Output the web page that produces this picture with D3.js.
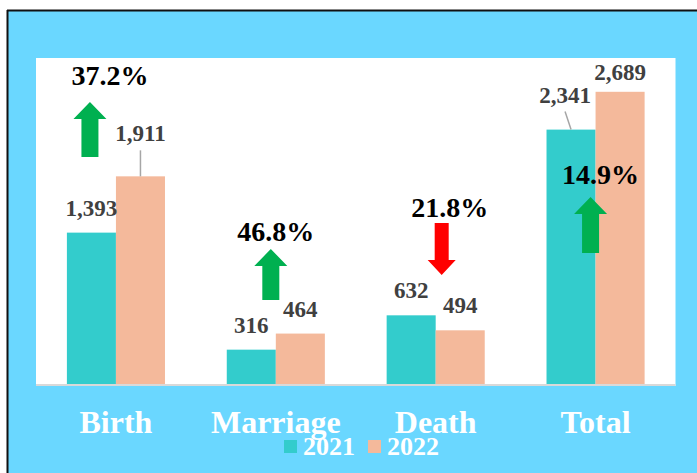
<!DOCTYPE html>
<html>
<head>
<meta charset="utf-8">
<script src="https://cdn.jsdelivr.net/npm/d3@7"></script>
<style>
  html, body { margin: 0; padding: 0; background: #fff; }
  svg { display: block; }
  text { font-family: "Liberation Serif", "Times New Roman", serif; font-weight: bold; }
</style>
</head>
<body>
<svg id="chart" width="697" height="473"></svg>
<script>
// data
const categories = ['Birth', 'Marriage', 'Death', 'Total'];
const years = ['2021', '2022'];
const values2021 = [1393, 316, 632, 2341];
const values2022 = [1911, 464, 494, 2689];
const pctChange = ['37.2%', '46.8%', '21.8%', '14.9%'];
const direction = ['up', 'up', 'down', 'up'];
const yMax = 3000;

const colors = { '2021': '#33CCCC', '2022': '#F4B99B' };
const green = '#00B050', red = '#FF0000';

const W = 697, H = 473;
const plot = { left: 36, right: 675.5, top: 58, bottom: 384 };

const svg = d3.select('#chart');

// frame: white strip on top/left with a black rule, blue panel
svg.append('rect').attr('x', 0).attr('y', 0).attr('width', W).attr('height', H).attr('fill', '#fff');
svg.append('rect').attr('x', 8).attr('y', 11).attr('width', W - 8).attr('height', H - 11).attr('fill', '#6AD7FF');
svg.append('line').attr('x1', 7).attr('x2', W).attr('y1', 10.5).attr('y2', 10.5).attr('stroke', '#111').attr('stroke-width', 2);
svg.append('line').attr('x1', 7.5).attr('x2', 7.5).attr('y1', 10).attr('y2', H).attr('stroke', '#111').attr('stroke-width', 2);

// white plot area
svg.append('rect')
    .attr('x', plot.left).attr('y', plot.top)
    .attr('width', plot.right - plot.left).attr('height', plot.bottom - plot.top + 2)
    .attr('fill', '#fff');

const x0 = d3.scaleBand().domain(categories).range([plot.left, plot.right]).padding(0);
const x1 = d3.scaleBand().domain(years).range([0, x0.bandwidth()]).paddingInner(0).paddingOuter(0.63);
const y = d3.scaleLinear().domain([0, yMax]).range([plot.bottom, plot.top]);

const rows = categories.map((c, i) => ({
    cat: c,
    vals: [
        { year: '2021', v: values2021[i] },
        { year: '2022', v: values2022[i] }
    ]
}));

const groups = svg.append('g').selectAll('g')
    .data(rows)
    .join('g')
    .attr('transform', d => `translate(${x0(d.cat)},0)`);

groups.selectAll('rect')
    .data(d => d.vals)
    .join('rect')
    .attr('x', d => x1(d.year))
    .attr('y', d => y(d.v))
    .attr('width', x1.bandwidth())
    .attr('height', d => y(0) - y(d.v))
    .attr('fill', d => colors[d.year]);

// baseline
svg.append('line')
    .attr('x1', plot.left).attr('x2', plot.right)
    .attr('y1', plot.bottom + 1).attr('y2', plot.bottom + 1)
    .attr('stroke', '#D9D9D9').attr('stroke-width', 2);

// value labels, some pulled up with a leader line
// [category, year] -> [dx, lift] ; lift = distance of baseline above bar top
const labelShift = {
    'Birth-2022': [0, 35],
    'Total-2021': [-6, 27],
    'Total-2022': [0, 12]
};
const fmt = d3.format(',');
groups.each(function (d) {
    const g = d3.select(this);
    d.vals.forEach(b => {
        const cx = x1(b.year) + x1.bandwidth() / 2;
        const top = y(b.v);
        const s = labelShift[d.cat + '-' + b.year] || [0, 17];
        const lx = cx + s[0], ly = top - s[1];
        if (s[1] > 20) {
            g.append('line')
                .attr('x1', lx).attr('y1', ly + 9)
                .attr('x2', cx).attr('y2', top)
                .attr('stroke', '#A6A6A6').attr('stroke-width', 1.5);
        }
        g.append('text')
            .attr('x', lx).attr('y', ly)
            .attr('text-anchor', 'middle')
            .attr('font-size', 23)
            .attr('fill', '#404040')
            .text(fmt(b.v));
    });
});

// percent change annotations: arrow + text, offsets from category center
const annLayout = {
    Birth:    { ax: -26, aTop: 102, aBot: 157, tx: -6, ty: 85 },
    Marriage: { ax: -5,  aTop: 249, aBot: 300, tx: 0,  ty: 241 },
    Death:    { ax: 6,   aTop: 223, aBot: 275, tx: 14, ty: 217 },
    Total:    { ax: -5,  aTop: 197, aBot: 253, tx: 5,  ty: 184 }
};

function arrowPath(cx, top, bot, dir, headW, shaftW, headH) {
    const hw = headW / 2, sw = shaftW / 2;
    if (dir === 'up') {
        return `M${cx},${top} L${cx + hw},${top + headH} L${cx + sw},${top + headH} L${cx + sw},${bot}
                L${cx - sw},${bot} L${cx - sw},${top + headH} L${cx - hw},${top + headH} Z`;
    }
    return `M${cx},${bot} L${cx + hw},${bot - headH} L${cx + sw},${bot - headH} L${cx + sw},${top}
            L${cx - sw},${top} L${cx - sw},${bot - headH} L${cx - hw},${bot - headH} Z`;
}

categories.forEach((c, i) => {
    const L = annLayout[c];
    const cx = x0(c) + x0.bandwidth() / 2;
    const up = direction[i] === 'up';
    svg.append('path')
        .attr('d', up
            ? arrowPath(cx + L.ax, L.aTop, L.aBot, 'up', 33, 17, 17)
            : arrowPath(cx + L.ax, L.aTop, L.aBot, 'down', 28, 14, 15))
        .attr('fill', up ? green : red);
    svg.append('text')
        .attr('x', cx + L.tx).attr('y', L.ty)
        .attr('text-anchor', 'middle')
        .attr('font-size', 28)
        .attr('fill', '#000')
        .text(pctChange[i]);
});

// category labels
svg.append('g').selectAll('text')
    .data(categories)
    .join('text')
    .attr('x', d => x0(d) + x0.bandwidth() / 2)
    .attr('y', 433)
    .attr('text-anchor', 'middle')
    .attr('font-size', 32)
    .attr('fill', '#fff')
    .text(d => d);

// legend
const legend = svg.append('g').attr('transform', 'translate(284,440)');
const legX = [0, 84];
years.forEach((yr, i) => {
    legend.append('rect')
        .attr('x', legX[i]).attr('y', 0)
        .attr('width', 13).attr('height', 13)
        .attr('fill', colors[yr]);
    legend.append('text')
        .attr('x', legX[i] + 19).attr('y', 15)
        .attr('font-size', 26)
        .attr('fill', '#fff')
        .text(yr);
});
</script>
</body>
</html>
